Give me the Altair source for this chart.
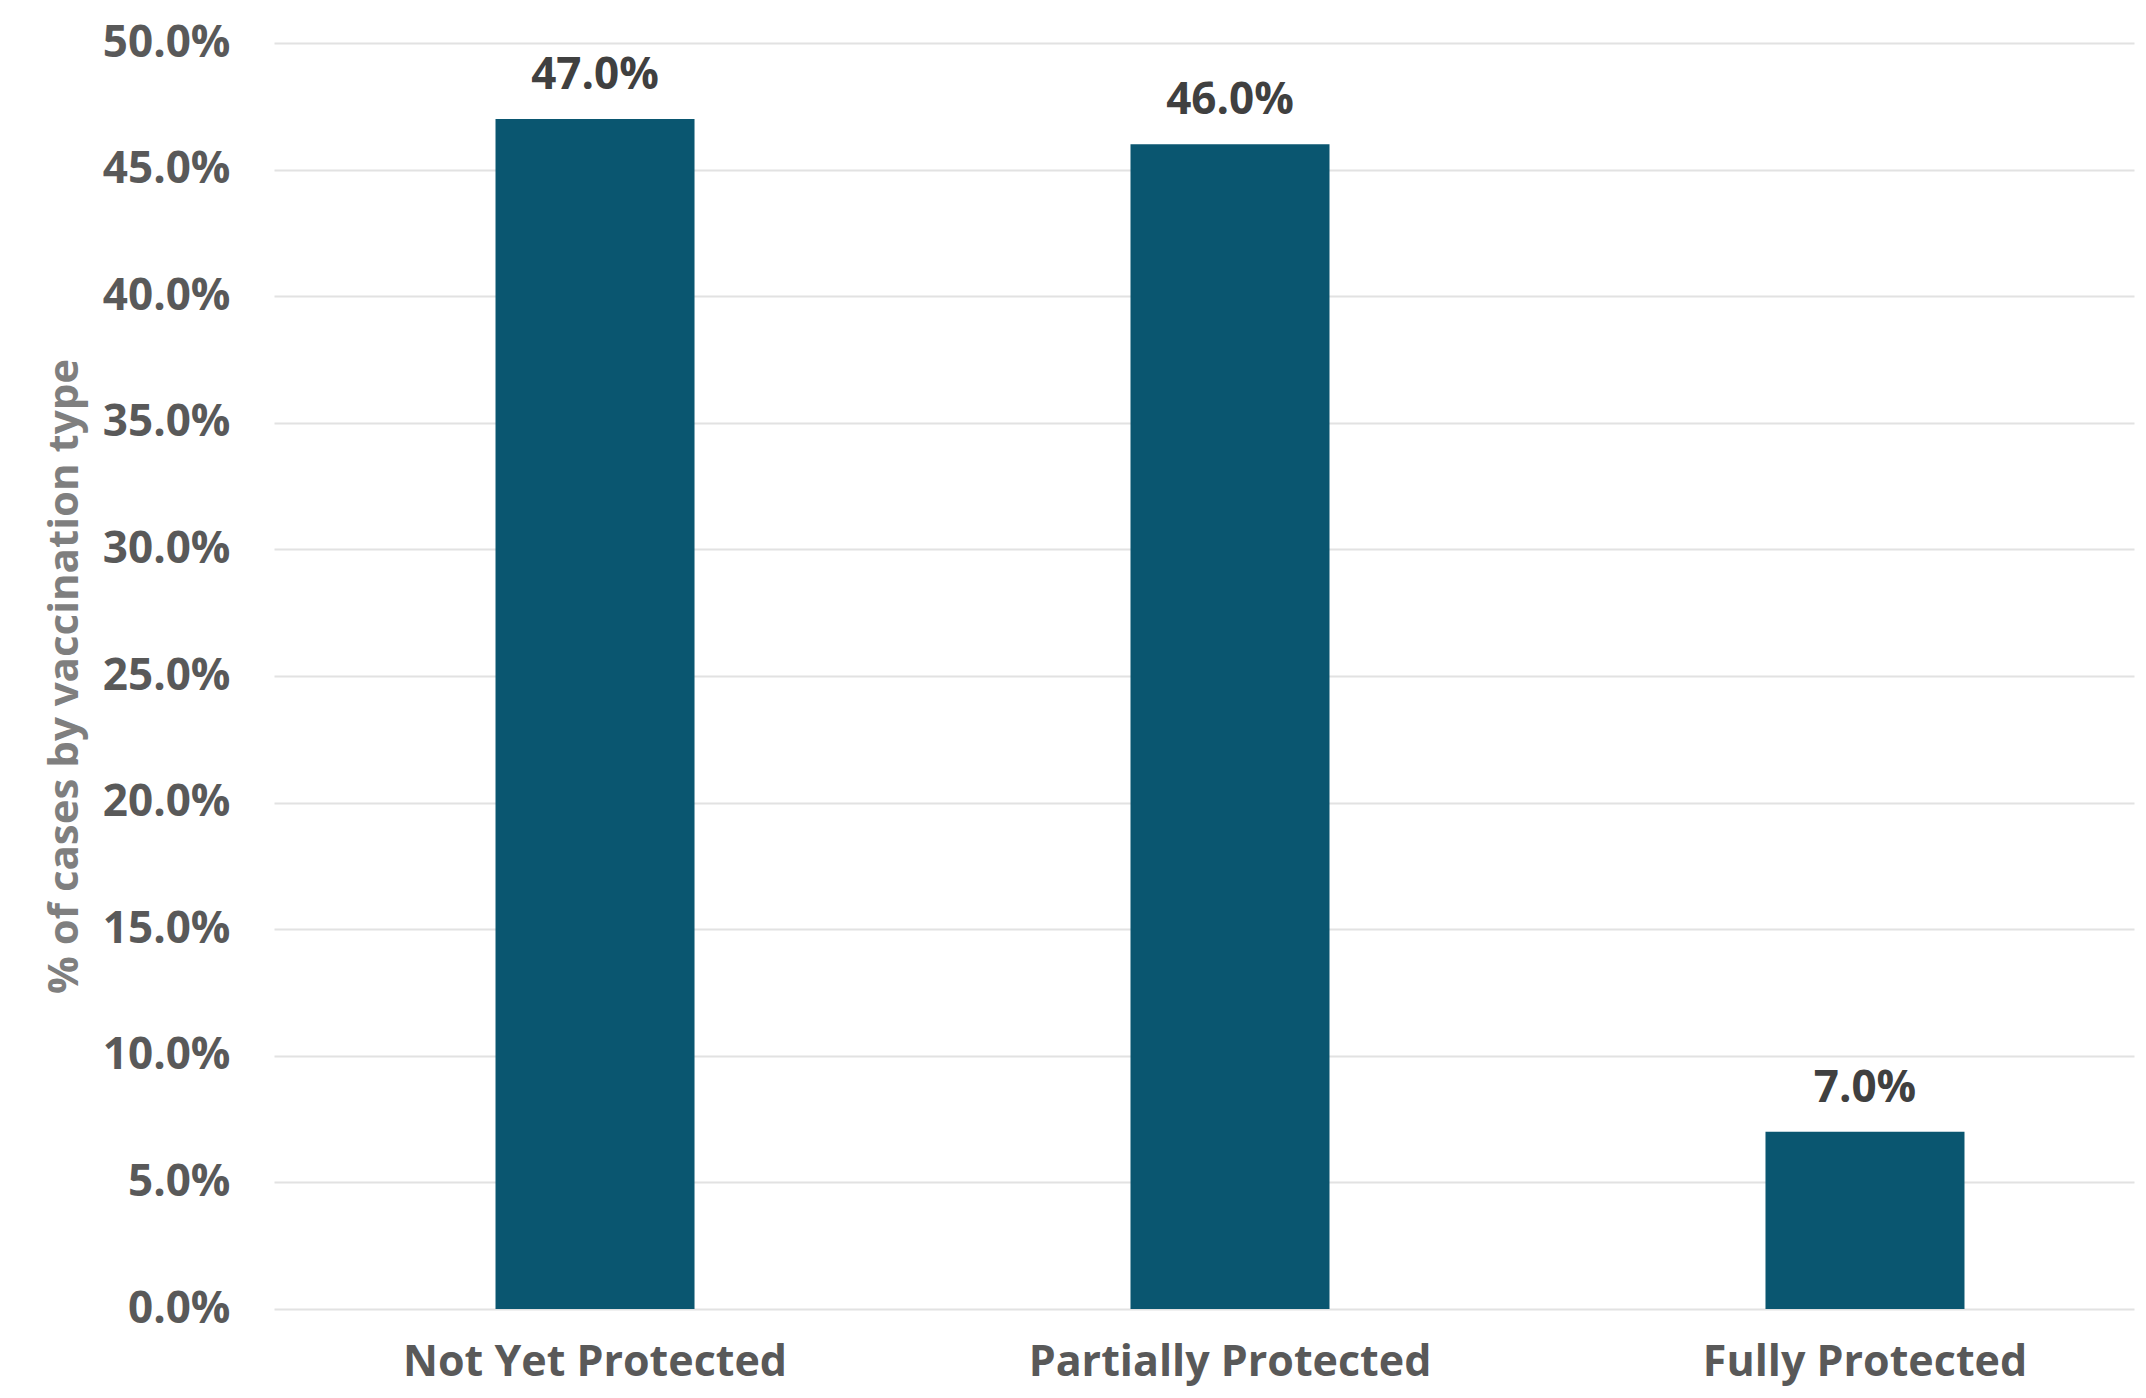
import altair as alt
import pandas as pd

categories = ["Not Yet Protected", "Partially Protected", "Fully Protected"]
shares = [0.47, 0.46, 0.07]
y_ticks = [0.0, 0.05, 0.10, 0.15, 0.20, 0.25, 0.30, 0.35, 0.40, 0.45, 0.50]

df = pd.DataFrame({"category": categories, "share": shares})

FONT = "Open Sans"

base = alt.Chart(df).encode(
    x=alt.X(
        "category:N",
        sort=categories,
        scale=alt.Scale(paddingInner=0.6866, paddingOuter=0.3079, align=0.5665),
        axis=alt.Axis(
            title=None,
            labelAngle=0,
            labelFont=FONT,
            labelFontSize=43,
            labelFontWeight="bold",
            labelColor="#595959",
            labelPadding=32,
            labelLimit=0,
            domain=False,
            ticks=False,
            grid=False,
        ),
    ),
    y=alt.Y(
        "share:Q",
        scale=alt.Scale(domain=[0, 0.5], nice=False),
        axis=alt.Axis(
            values=y_ticks,
            format=".1%",
            title="% of cases by vaccination type",
            titleFont=FONT,
            titleFontSize=42,
            titleFontWeight="bold",
            titleColor="#7f7f7f",
            titlePadding=16,
            labelFont=FONT,
            labelFontSize=44,
            labelFontWeight="bold",
            labelColor="#595959",
            labelPadding=44,
            domain=False,
            ticks=False,
            tickSize=0,
            grid=True,
            gridColor="#e2e2e2",
            gridWidth=2,
        ),
    ),
)

bars = base.mark_bar(color="#0a5670")
labels = base.mark_text(
    dy=-43,
    baseline="middle",
    font=FONT,
    fontSize=44,
    fontWeight="bold",
    color="#404040",
).encode(text=alt.Text("share:Q", format=".1%"))

chart = (
    (bars + labels)
    .properties(
        width=1860,
        height=1266,
        autosize=alt.AutoSizeParams(type="none"),
        padding={"left": 266, "top": 35, "right": 2, "bottom": 81},
        background="white",
    )
    .configure_view(stroke=None)
)

chart.save("out.html", embed_options={"renderer": "svg", "actions": False})
